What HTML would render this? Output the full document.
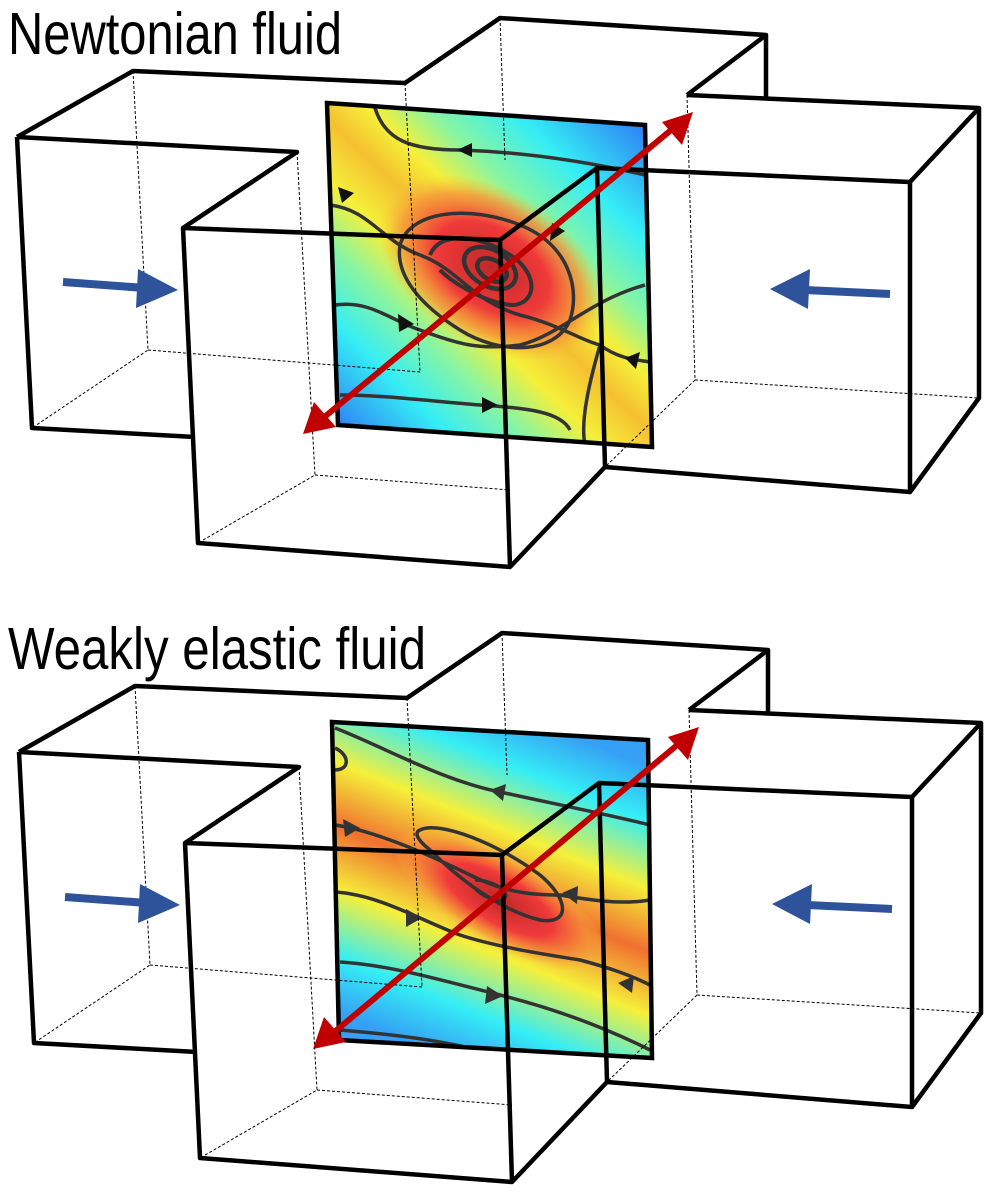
<!DOCTYPE html>
<html><head><style>html,body{margin:0;padding:0;background:#fff}</style></head><body>
<svg width="1000" height="1193" viewBox="0 0 1000 1193" xmlns="http://www.w3.org/2000/svg">
<defs>
<linearGradient id="lg1" gradientUnits="userSpaceOnUse" x1="645" y1="115" x2="335" y2="435">
<stop offset="0" stop-color="#2f74f5"/><stop offset="0.2" stop-color="#35eef5"/><stop offset="0.33" stop-color="#8af5a0"/><stop offset="0.42" stop-color="#f5f03a"/><stop offset="0.5" stop-color="#f5c030"/><stop offset="0.6" stop-color="#f5f03a"/><stop offset="0.7" stop-color="#8af5a0"/><stop offset="0.82" stop-color="#35eef5"/><stop offset="1" stop-color="#2f74f5"/>
</linearGradient>
<linearGradient id="lg2" gradientUnits="userSpaceOnUse" x1="560" y1="730" x2="430" y2="1050">
<stop offset="0" stop-color="#35a0f5"/><stop offset="0.15" stop-color="#35eef5"/><stop offset="0.33" stop-color="#f5f03a"/><stop offset="0.5" stop-color="#f07030"/><stop offset="0.67" stop-color="#f5f03a"/><stop offset="0.85" stop-color="#35eef5"/><stop offset="1" stop-color="#35a0f5"/>
</linearGradient>
<radialGradient id="rg">
<stop offset="0" stop-color="#c02828"/><stop offset="0.5" stop-color="#f03a3a"/><stop offset="0.8" stop-color="#f58a3a" stop-opacity="0.7"/><stop offset="1" stop-color="#f5c03a" stop-opacity="0"/>
</radialGradient>
<clipPath id="c1"><polygon points="327,103 645,125 652,447 338,425"/></clipPath>
<clipPath id="c2"><polygon points="332,722 648,740 652,1058 339,1040"/></clipPath>
</defs>

<text x="8" y="54" font-family="Liberation Sans, sans-serif" font-size="59" textLength="334" lengthAdjust="spacingAndGlyphs">Newtonian fluid</text>
<text x="8" y="669" font-family="Liberation Sans, sans-serif" font-size="59" textLength="418" lengthAdjust="spacingAndGlyphs">Weakly elastic fluid</text>

<!-- TOP PANEL plane -->
<g clip-path="url(#c1)">
<rect x="320" y="100" width="340" height="350" fill="url(#lg1)"/>
<ellipse cx="492" cy="268" rx="125" ry="78" transform="rotate(32 492 268)" fill="url(#rg)"/>
<g fill="none" stroke="#333" stroke-width="3.5">
<path d="M375,108 C385,140 410,150 460,150 C520,152 580,160 645,175"/>
<path d="M330,205 C370,210 380,240 420,255 C460,270 470,300 520,315 C560,325 580,340 600,345 C620,360 640,360 650,362"/>
<path d="M400,245 C410,210 470,205 520,225 C570,245 580,290 570,320 C555,355 500,355 460,330 C420,305 395,275 400,245z"/>
<path d="M430,255 C440,230 480,235 510,255 C535,270 540,300 515,305 C490,305 455,285 440,270" stroke-width="4"/>
<ellipse cx="490" cy="268" rx="28" ry="18" transform="rotate(30 490 268)" stroke-width="4.5"/>
<ellipse cx="492" cy="270" rx="16" ry="10" transform="rotate(30 492 270)" stroke-width="4.5"/>
<path d="M335,305 C370,300 390,320 420,330 C460,345 480,350 520,345 C560,335 590,300 645,285"/>
<path d="M340,395 C380,395 420,400 480,405 C520,408 560,410 570,430"/>
<path d="M585,445 C580,420 590,380 600,345"/>
</g>
<g fill="#111">
<polygon points="457,150 472,143 472,157"/>
<polygon points="354,193 338,187 342,203"/>
<polygon points="565,231 552,223 550,241"/>
<polygon points="414,324 398,314 399,332"/>
<polygon points="625,358 640,352 636,369"/>
<polygon points="498,405 482,397 482,413"/>
</g>
</g>
<polygon points="327,103 645,125 652,447 338,425" fill="none" stroke="#000" stroke-width="4.5"/>

<!-- TOP PANEL boxes -->
<g fill="none" stroke="#000" stroke-width="1" stroke-dasharray="3,2">
<polyline points="133,71 148,350 32,428"/><line x1="148" y1="350" x2="420" y2="372"/>
<line x1="405" y1="83" x2="420" y2="372"/><line x1="500" y1="18" x2="505" y2="160"/>
<polyline points="687,95 695,380 979,398"/><line x1="695" y1="380" x2="605" y2="467"/>
<polyline points="297,152 315,475 198,543"/><line x1="315" y1="475" x2="510" y2="490"/>
<line x1="766" y1="35" x2="766" y2="97"/>
</g>
<g fill="none" stroke="#000" stroke-width="4.5" stroke-linejoin="round">
<polyline points="17,137 133,71 405,83 500,18 766,35 766,97"/>
<polyline points="17,137 297,152 183,228"/>
<polyline points="17,137 32,428 195,437"/>
<polyline points="687,95 979,108 910,182 597,168 500,240 183,228 198,543 510,567 605,467 597,168"/>
<line x1="500" y1="240" x2="510" y2="567"/>
<polyline points="979,108 979,398 910,492 605,467"/>
<line x1="910" y1="182" x2="910" y2="492"/>
<line x1="687" y1="95" x2="766" y2="35"/>
</g>
<!-- arrows top -->
<line x1="322" y1="419" x2="676" y2="126" stroke="#c00000" stroke-width="6"/>
<polygon points="303,434 314,402 336,427" fill="#c00000"/>
<polygon points="693,112 662,122 682,145" fill="#c00000"/>
<line x1="63" y1="282" x2="145" y2="288" stroke="#2e539b" stroke-width="8"/>
<polygon points="178,290 138,269 136,308" fill="#2e539b"/>
<line x1="890" y1="294" x2="805" y2="290" stroke="#2e539b" stroke-width="8"/>
<polygon points="770,289 810,269 808,309" fill="#2e539b"/>

<!-- BOTTOM PANEL plane -->
<g clip-path="url(#c2)">
<rect x="325" y="715" width="335" height="350" fill="url(#lg2)"/>
<ellipse cx="500" cy="900" rx="120" ry="45" transform="rotate(30 500 900)" fill="url(#rg)"/>
<g fill="none" stroke="#333" stroke-width="3.5">
<path d="M335,728 C380,745 440,780 500,792 C560,805 610,815 650,825"/>
<path d="M335,748 C350,755 350,770 335,770"/>
<path d="M335,825 C370,830 420,850 470,875 C510,895 540,895 560,895 C590,900 620,905 650,900"/>
<path d="M420,830 C440,820 500,845 540,875 C570,900 570,925 540,920 C500,910 460,880 430,850 C415,838 415,832 420,830z"/>
<path d="M475,880 C490,880 510,890 505,898 C500,905 480,895 475,888"/>
<path d="M335,892 C380,895 420,920 460,935 C500,948 550,955 580,960 C610,968 630,975 650,985"/>
<path d="M340,962 C390,965 440,980 500,995 C560,1010 610,1030 650,1050"/>
<path d="M340,1030 C400,1035 440,1040 500,1055"/>
</g>
<g fill="#333">
<polygon points="490,790 506,784 503,801"/>
<polygon points="360,828 343,819 345,837"/>
<polygon points="562,893 578,886 577,904"/>
<polygon points="422,918 406,909 406,927"/>
<polygon points="618,983 634,976 632,993"/>
<polygon points="503,996 487,986 485,1004"/>
</g>
</g>
<polygon points="332,722 648,740 652,1058 339,1040" fill="none" stroke="#000" stroke-width="4.5"/>

<!-- BOTTOM PANEL boxes -->
<g transform="translate(2,615)">
<g fill="none" stroke="#000" stroke-width="1" stroke-dasharray="3,2">
<polyline points="133,71 148,350 32,428"/><line x1="148" y1="350" x2="420" y2="372"/>
<line x1="405" y1="83" x2="420" y2="372"/><line x1="500" y1="18" x2="505" y2="160"/>
<polyline points="687,95 695,380 979,398"/><line x1="695" y1="380" x2="605" y2="467"/>
<polyline points="297,152 315,475 198,543"/><line x1="315" y1="475" x2="510" y2="490"/>
<line x1="766" y1="35" x2="766" y2="97"/>
</g>
<g fill="none" stroke="#000" stroke-width="4.5" stroke-linejoin="round">
<polyline points="17,137 133,71 405,83 500,18 766,35 766,97"/>
<polyline points="17,137 297,152 183,228"/>
<polyline points="17,137 32,428 195,437"/>
<polyline points="687,95 979,108 910,182 597,168 500,240 183,228 198,543 510,567 605,467 597,168"/>
<line x1="500" y1="240" x2="510" y2="567"/>
<polyline points="979,108 979,398 910,492 605,467"/>
<line x1="910" y1="182" x2="910" y2="492"/>
<line x1="687" y1="95" x2="766" y2="35"/>
</g>
<line x1="330" y1="419" x2="680" y2="126" stroke="#c00000" stroke-width="6"/>
<polygon points="311,434 322,402 344,427" fill="#c00000"/>
<polygon points="697,112 666,122 686,145" fill="#c00000"/>
<line x1="63" y1="282" x2="145" y2="288" stroke="#2e539b" stroke-width="8"/>
<polygon points="178,290 138,269 136,308" fill="#2e539b"/>
<line x1="890" y1="294" x2="805" y2="290" stroke="#2e539b" stroke-width="8"/>
<polygon points="770,289 810,269 808,309" fill="#2e539b"/>
</g>
</svg>
</body></html>
